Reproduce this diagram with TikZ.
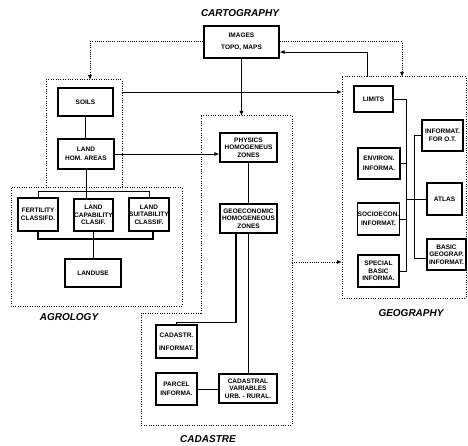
\documentclass[tikz,border=0pt]{standalone}
\usepackage{fontspec}
\setmainfont{Liberation Sans}
\usetikzlibrary{arrows.meta}
\begin{document}
\begin{tikzpicture}[x=1pt,y=-1pt,
  box/.style={draw, line width=1.2pt, inner sep=0pt, align=center, font=\fontsize{6.5}{7.6}\selectfont\bfseries},
  conn/.style={line width=0.9pt},
  heavy/.style={line width=1.6pt},
  zone/.style={line width=1pt, dash pattern=on 1pt off 1.4pt},
  dotconn/.style={line width=1pt, dash pattern=on 1pt off 1.2pt},
  arr/.style={-{Latex[length=5pt,width=4pt]}},
  title/.style={font=\fontsize{10}{12}\selectfont\bfseries\itshape}]
\useasboundingbox (0,0) rectangle (468,446);

% zones
\draw[zone] (46,188) -- (46,80) -- (122,80) -- (122,188);
\draw[zone] (11,188) rectangle (182,306);
\draw[zone] (201,116) -- (292,116) -- (292,425) -- (141,425) -- (141,313) -- (201,313) -- cycle;
\draw[zone] (342,77) rectangle (466,298);

\coordinate (agtop) at (90,80);
\coordinate (agright) at (122,92);
\coordinate (cadtop) at (240,116);
\coordinate (cadR) at (292,262);
\coordinate (geoA) at (367,77);
\coordinate (geoB) at (402,77);
\coordinate (geoL) at (342,92);
\coordinate (geoL2) at (342,262);

% titles
\node[title] (tcart) at (240,13) {CARTOGRAPHY};
\node[title] (tagro) at (69,317) {AGROLOGY};
\node[title] (tgeo) at (411,313) {GEOGRAPHY};
\node[title] (tcad) at (208,439) {CADASTRE};

% nodes
\node[box,minimum width=75pt,minimum height=32pt] (images) at (241.5,42) {IMAGES\\[4pt]TOPO, MAPS};
\node[box,minimum width=55pt,minimum height=28pt] (soils) at (85.5,102) {SOILS};
\node[box,minimum width=56pt,minimum height=30pt] (land) at (86,154) {LAND\\[1pt]HOM. AREAS};
\node[box,minimum width=40pt,minimum height=33pt] (fert) at (38,214.5) {FERTILITY\\CLASSIFD.};
\node[box,minimum width=39pt,minimum height=32pt] (capab) at (93.5,215) {LAND\\CAPABILITY\\CLASIF.};
\node[box,minimum width=40pt,minimum height=33pt] (suit) at (149,214.5) {LAND\\SUITABILITY\\CLASSIF.};
\node[box,minimum width=56pt,minimum height=28pt] (landuse) at (93,273) {LANDUSE};
\node[box,minimum width=57pt,minimum height=29pt] (physics) at (248.5,147.5) {PHYSICS\\HOMOGENEUS\\ZONES};
\node[box,minimum width=57pt,minimum height=29pt] (geoeco) at (248.5,218.5) {GEOECONOMIC\\HOMOGENEOUS\\ZONES};
\node[box,minimum width=41pt,minimum height=33pt] (cadinf) at (176.5,341.5) {CADASTR.\\[5pt]INFORMAT.};
\node[box,minimum width=41pt,minimum height=32pt] (parcel) at (176.5,389) {PARCEL\\[1pt]INFORMA.};
\node[box,minimum width=58pt,minimum height=29pt] (cadvar) at (248,388.5) {CADASTRAL\\VARIABLES\\URB. - RURAL.};
\node[box,minimum width=39pt,minimum height=26pt] (limits) at (373.5,99) {LIMITS};
\node[box,minimum width=42pt,minimum height=31pt] (environ) at (379,163.5) {ENVIRON.\\[2pt]INFORMA.};
\node[box,minimum width=41pt,minimum height=32pt] (socio) at (378.5,219) {SOCIOECON.\\[1pt]INFORMAT.};
\node[box,minimum width=41pt,minimum height=32pt] (special) at (378.5,271) {SPECIAL\\BASIC\\INFORMA.};
\node[box,minimum width=41pt,minimum height=31pt] (informat) at (442.5,135.5) {INFORMAT.\\FOR O.T.};
\node[box,minimum width=35pt,minimum height=32pt] (atlas) at (444.5,199) {ATLAS};
\node[box,minimum width=39pt,minimum height=31pt] (basic) at (446.5,254.5) {BASIC\\GEOGRAP.\\INFORMAT.};

% cartography connectors
\draw[dotconn,arr] (images.west) -| (agtop);
\draw[dotconn,arr] (images.east) -| (geoB);
\draw[conn,arr] (geoA) |- ([yshift=-10pt]images.east);
\draw[conn,arr] (images.south) -- (images.south |- cadtop);
\draw[conn,arr] (agright) -- (geoL);
\draw[conn,arr] (land.east) -- (land.east -| physics.west);
\draw[dotconn,arr] (cadR) -- (geoL2);

% agrology
\coordinate (bt) at (86,191);
\coordinate (bb) at (94,239);
\draw[conn] (soils.south) -- (soils.south |- land.north);
\draw[conn] (land.south) -- (land.south |- capab.north);
\draw[conn] (fert.north) -- (fert.north |- bt) -- (suit.north |- bt) -- (suit.north);
\coordinate (sb) at ([xshift=4pt]suit.south);
\draw[heavy] (fert.south) -- (fert.south |- bb) -- (sb |- bb) -- (sb);
\draw[conn] (capab.south) -- (capab.south |- landuse.north);

% cadastre
\draw[conn] (physics.south) -- (geoeco.north);
\draw[heavy] ([xshift=-12.5pt]geoeco.south) -- ++(0,89) -| (cadinf.north);
\draw[conn] (geoeco.south) -- (geoeco.south |- cadvar.north);
\draw[conn] (parcel.east) -- (parcel.east -| cadvar.west);

% geography
\coordinate (gx) at (406,0);
\coordinate (hx) at (414,0);
\coordinate (bw) at ([yshift=-4pt]basic.west);
\draw[conn] (limits.east) -| (special.east -| gx) -- (special.east);
\draw[conn] (environ.east) -- (environ.east -| gx);
\draw[conn] (socio.east) -- (socio.east -| gx);
\draw[conn] (gx |- atlas.west) -- (atlas.west);
\draw[conn] (informat.west) -| (bw -| hx) -- (bw);
\end{tikzpicture}
\end{document}
